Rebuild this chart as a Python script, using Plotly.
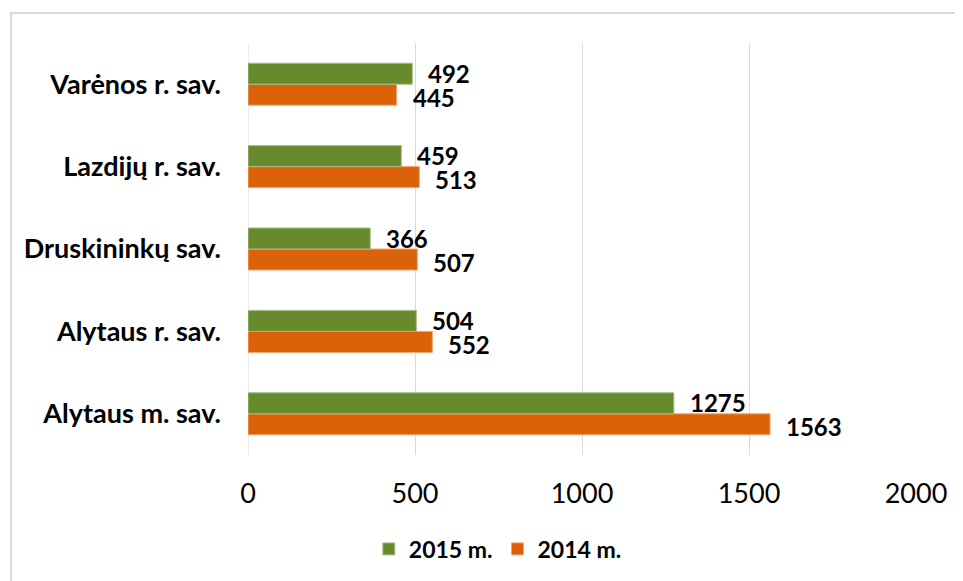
import plotly.graph_objects as go

categories = ["Alytaus m. sav.", "Alytaus r. sav.", "Druskininkų sav.", "Lazdijų r. sav.", "Varėnos r. sav."]
values_2015 = [1275, 504, 366, 459, 492]
values_2014 = [1563, 552, 507, 513, 445]
series_names = ["2015 m.", "2014 m."]
x_ticks = [0, 500, 1000, 1500, 2000]

GREEN = "#678a2c"
ORANGE = "#dc620a"
FONT = "Lato"

fig = go.Figure()
fig.add_trace(go.Bar(
    y=categories, x=values_2014, orientation="h", name=series_names[1],
    marker=dict(color=ORANGE, line=dict(color="#f3a56a", width=1)),
    legendrank=2,
))
fig.add_trace(go.Bar(
    y=categories, x=values_2015, orientation="h", name=series_names[0],
    marker=dict(color=GREEN, line=dict(color="#a6bd84", width=1)),
    legendrank=1,
))

annotations = []
for cat, v in zip(categories, values_2015):
    annotations.append(dict(x=v, y=cat, xref="x", yref="y", text=str(v), showarrow=False,
                            xanchor="left", yanchor="middle", xshift=14, yshift=11,
                            font=dict(family=FONT, size=24, color="#000000", weight="bold")))
for cat, v in zip(categories, values_2014):
    annotations.append(dict(x=v, y=cat, xref="x", yref="y", text=str(v), showarrow=False,
                            xanchor="left", yanchor="middle", xshift=14, yshift=-13,
                            font=dict(family=FONT, size=24, color="#000000", weight="bold")))

# page body has an 8px margin, so the figure is sized/shifted to fit the window
fig.update_layout(
    width=955, height=573,
    margin=dict(l=240, r=47, t=35, b=125),
    paper_bgcolor="white", plot_bgcolor="white",
    barmode="group", bargap=0.49, bargroupgap=0,
    font=dict(family=FONT, color="#000000"),
    annotations=annotations,
    legend=dict(orientation="h", x=0.374, xanchor="center", y=-0.225, yanchor="middle",
                font=dict(family=FONT, size=23, color="#000000", weight="bold"),
                itemwidth=30, traceorder="normal"),
    xaxis=dict(range=[0, 2000], tickvals=x_ticks, showgrid=True, gridcolor="#d9d9d9", gridwidth=1,
               zeroline=False, showline=False, ticks="", ticklabelstandoff=20,
               tickfont=dict(family=FONT, size=27, color="#000000")),
    yaxis=dict(showgrid=False, zeroline=False, showline=False, ticks="", ticklabelstandoff=26,
               tickfont=dict(family=FONT, size=27, color="#000000", weight="bold")),
    shapes=[
        dict(type="rect", xref="paper", yref="paper", x0=-0.3548, x1=1.1, y0=-0.4, y1=1.0726,
             line=dict(color="#d9d9d9", width=2), fillcolor="rgba(0,0,0,0)", layer="below"),
        dict(type="line", xref="x", yref="paper", x0=0, x1=0, y0=0, y1=1,
             line=dict(color="#d9d9d9", width=1), layer="below"),
    ],
)

fig.write_html("out.html")
